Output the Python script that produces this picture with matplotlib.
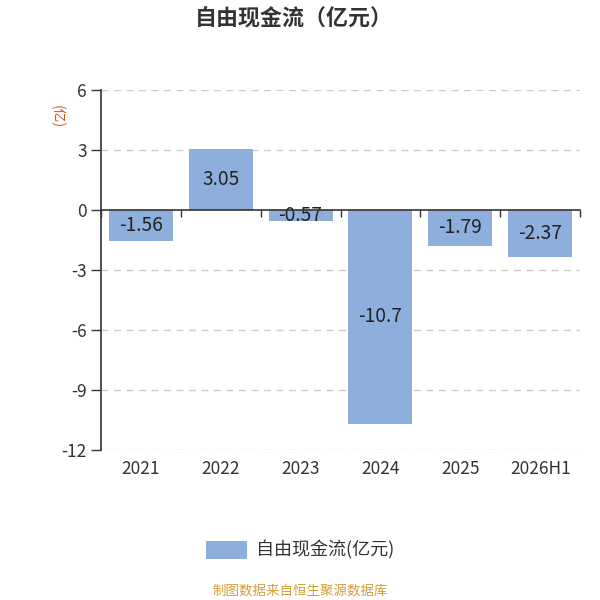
import matplotlib
matplotlib.use("Agg")
import matplotlib.pyplot as plt
import numpy as np

plt.rcParams['font.family'] = ['Noto Sans CJK SC', 'DejaVu Sans']

categories = ['2021', '2022', '2023', '2024', '2025', '2026H1']
values = [-1.56, 3.05, -0.57, -10.7, -1.79, -2.37]
labels = ['-1.56', '3.05', '-0.57', '-10.7', '-1.79', '-2.37']
yticks = [6, 3, 0, -3, -6, -9, -12]

bar_color = '#8eaedb'
text_color = '#333333'

fig = plt.figure(figsize=(6, 6), dpi=100)
ax = fig.add_axes([0.168, 0.25, 0.799, 0.60])

x = np.arange(len(categories))
bars = ax.bar(x, values, width=0.8, color=bar_color, zorder=3, label='自由现金流(亿元)')
for xi, v, lab in zip(x, values, labels):
    ax.text(xi, v / 2, lab, ha='center', va='center', fontsize=13.8, color='#222222', zorder=4)

ax.set_xlim(-0.5, len(categories) - 0.5)
ax.set_ylim(-12, 6)
ax.set_yticks(yticks)
ax.set_yticklabels([str(t) for t in yticks])
ax.tick_params(axis='y', length=7, width=1, color=text_color, labelsize=12.5, labelcolor=text_color, pad=3)
ax.set_xticks(x)
ax.set_xticklabels(categories)
ax.tick_params(axis='x', length=0, labelsize=12.5, labelcolor=text_color, pad=7.5)

for t in yticks:
    if t != 0:
        ax.axhline(t, color='#cccccc', linestyle=(0, (5, 4)), linewidth=1, zorder=1)

for s in ['top', 'right', 'bottom']:
    ax.spines[s].set_visible(False)
ax.spines['left'].set_color(text_color)
ax.spines['left'].set_linewidth(1.2)

sec = ax.secondary_xaxis(0, transform=ax.transData)
sec.set_xticks(np.arange(-0.5, len(categories), 1.0))
sec.tick_params(axis='x', length=5, width=1, color=text_color, labelbottom=False, direction='out')
sec.spines['bottom'].set_color(text_color)
sec.spines['bottom'].set_linewidth(1.2)
sec.set_zorder(5)

fig.text(0.49, 0.968, '自由现金流（亿元）', ha='center', va='center', fontsize=15.8,
         fontweight='bold', color='#333333')
fig.text(0.095, 0.805, '(亿)', ha='center', va='center', fontsize=10, rotation=-90,
         color='#cc5a1e')

leg = fig.legend(handles=[bars], loc='center', bbox_to_anchor=(0.5, 0.083), frameon=False,
                 fontsize=13, handlelength=2.3, handleheight=1.2, handletextpad=0.5,
                 labelcolor='#333333')
fig.text(0.5, 0.015, '制图数据来自恒生聚源数据库', ha='center', va='center', fontsize=9.7,
         color='#d29f3a')

fig.savefig('out.png', dpi=100)
